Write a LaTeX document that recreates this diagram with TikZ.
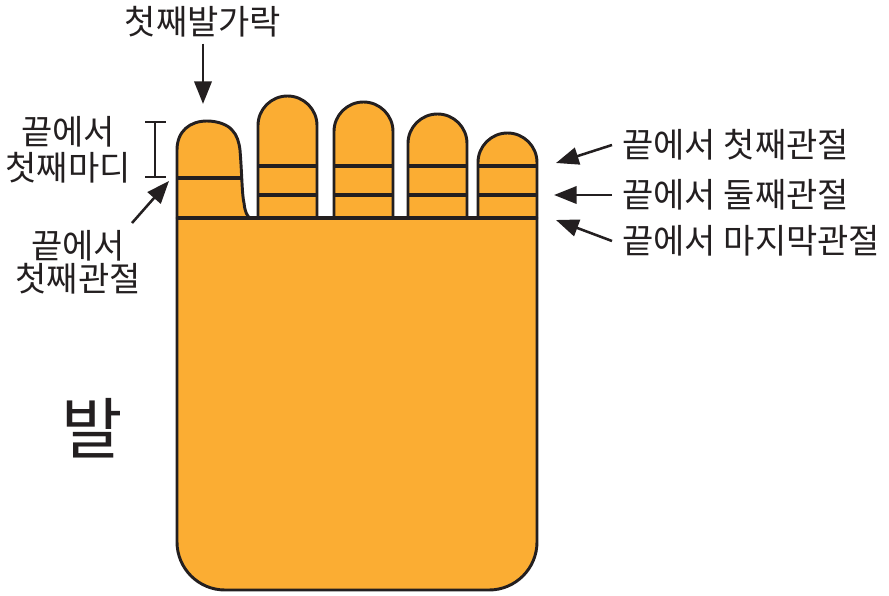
\documentclass[tikz,border=0pt]{standalone}
\usepackage{fontspec}
\newfontfamily\kr{Noto Sans CJK KR}
\usetikzlibrary{arrows.meta}
\definecolor{skin}{RGB}{251,173,51}
\definecolor{ink}{RGB}{35,31,32}
\tikzset{
  part/.style={fill=skin, draw=ink, line width=2.2pt, line join=round},
  joint/.style={draw=ink, line width=2.4pt},
  lbl/.style={font=\kr\fontsize{25.5}{27}\selectfont, text=ink, inner sep=7.5pt},
  arr/.style={draw=ink, line width=1.9pt, -{Triangle[length=17pt, width=13pt]}},
  dim/.style={draw=ink, line width=1pt}
}
\begin{document}
\begin{tikzpicture}[x=0.75pt, y=-0.75pt]
\useasboundingbox (0,0) rectangle (889,596);

% sole of the foot
\path[part] (177,218) -- (537,218) -- (537,542)
  arc[start angle=0, end angle=-90, radius=36pt] -- (225,590)
  arc[start angle=270, end angle=180, radius=36pt] -- cycle;

% big toe
\path[part] (177,218) -- (177,150)
  .. controls (177,131) and (190,121) .. (207,121)
  .. controls (218,121) and (228,125) .. (232,130)
  .. controls (237,135) and (239,142) .. (240,150)
  .. controls (242,175) and (242,195) .. (244,203)
  .. controls (245,212) and (247,216) .. (250,218) -- cycle;
\draw[joint] (177,178) -- (241.3,178);

% the four smaller toes: left edge, top
\foreach \xl/\yt in {258/96, 334/102, 408/114, 478/133}{
  \path[part] (\xl,218) -- (\xl,\yt+29.5)
    arc[start angle=180, end angle=0, radius=22.125pt] -- (\xl+59,218) -- cycle;
  \draw[joint] (\xl,166) -- (\xl+59,166);
  \draw[joint] (\xl,195) -- (\xl+59,195);
}
\draw[joint] (177,218) -- (537,218);

% labels
\node[lbl] (top) at (203,22) {첫째발가락};
\coordinate (tTop) at (203,104);
\draw[arr, shorten <=-3pt] (top.south) -- (tTop);

\node[lbl, align=center, font=\kr\fontsize{25.5}{27}\selectfont] (ltip) at (68,150) {끝에서\\첫째마디};
\draw[dim] (155,122) -- (155,177);
\draw[dim] (145,122) -- (166,122);
\draw[dim] (145,177) -- (166,177);

\node[lbl, align=center, font=\kr\fontsize{25.5}{25}\selectfont] (ljoint) at (78,262) {끝에서\\첫째관절};
\coordinate (lTail) at (132,223);
\coordinate (lHead) at (169,181);
\draw[arr] (lTail) -- (lHead);

\node[lbl, anchor=west] (r1) at (612,145) {끝에서 첫째관절};
\node[lbl, anchor=west] (r2) at (612,195) {끝에서 둘째관절};
\node[lbl, anchor=west] (r3) at (612,241) {끝에서 마지막관절};
\coordinate (t1) at (556,163);
\coordinate (t2) at (554,195);
\coordinate (t3) at (556,220);
\draw[arr] (r1.west) -- (t1);
\draw[arr] (r2.west) -- (t2);
\draw[arr] (r3.west) -- (t3);

\node[font=\kr\fontsize{50}{55}\selectfont, text=ink] (foot) at (92,428) {발};
\end{tikzpicture}
\end{document}
